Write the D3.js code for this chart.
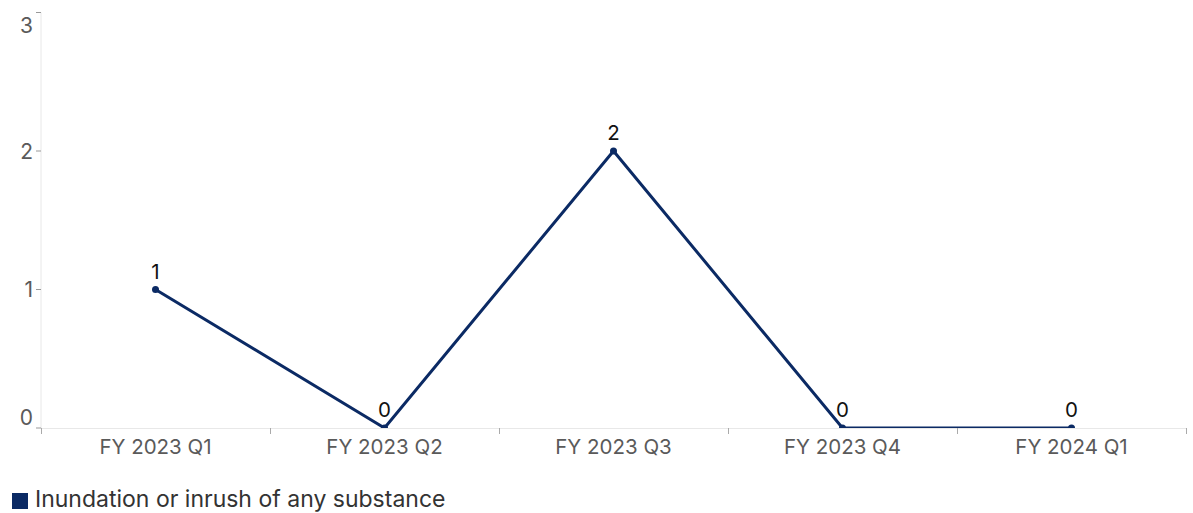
<!DOCTYPE html>
<html><head><meta charset="utf-8">
<script src="https://cdn.jsdelivr.net/npm/d3@7"></script>
<style>body{margin:0;background:#fff;}svg{display:block;font-family:Inter,"Noto Sans",sans-serif;}</style>
</head><body>
<svg id="c" width="1193" height="513"></svg>
<script>
const categories = ["FY 2023 Q1","FY 2023 Q2","FY 2023 Q3","FY 2023 Q4","FY 2024 Q1"];
const values = [1,0,2,0,0];
const yTicks = [0,1,2,3];
const seriesName = "Inundation or inrush of any substance";

const svg = d3.select("#c");
const m = {left:41, right:1186, top:12.5, bottom:428};
const color = "#0b2a64";

const x = d3.scaleBand().domain(categories).range([m.left, m.right]);
const y = d3.scaleLinear().domain([0,3]).range([m.bottom, m.top]);

svg.append("line").attr("x1",m.left).attr("x2",m.left).attr("y1",m.top).attr("y2",m.bottom)
  .attr("stroke","#e8e8e8").attr("stroke-width",1);
svg.append("line").attr("x1",m.left).attr("x2",m.right).attr("y1",m.bottom+0.5).attr("y2",m.bottom+0.5)
  .attr("stroke","#e8e8e8").attr("stroke-width",1);

const yg = svg.append("g");
yTicks.forEach(t=>{
  yg.append("line").attr("x1",m.left-5).attr("x2",m.left).attr("y1",y(t)).attr("y2",y(t))
    .attr("stroke","#999").attr("stroke-width",1);
  const ly = Math.max(m.top+12.5, Math.min(m.bottom-11, y(t)));
  yg.append("text").attr("x",m.left-8).attr("y",ly).attr("dy","0.36em")
    .attr("text-anchor","end").attr("font-size",21).attr("fill","#5a5a5a").text(t);
});

const bounds = categories.map(c=>x(c)).concat([m.right]);
bounds.forEach(b=>{
  svg.append("line").attr("x1",b+0.5).attr("x2",b+0.5).attr("y1",m.bottom).attr("y2",m.bottom+6)
    .attr("stroke","#aaa").attr("stroke-width",1);
});
categories.forEach(c=>{
  svg.append("text").attr("x",x(c)+x.bandwidth()/2).attr("y",454)
    .attr("text-anchor","middle").attr("font-size",20.5).attr("fill","#5a5a5a").text(c);
});

svg.append("clipPath").attr("id","clip").append("rect")
  .attr("x",m.left).attr("y",0).attr("width",m.right-m.left).attr("height",m.bottom);

const data = categories.map((c,i)=>({c, v:values[i]}));
const cx = d=>x(d.c)+x.bandwidth()/2;
const pg = svg.append("g").attr("clip-path","url(#clip)");
pg.append("path").datum(data)
  .attr("d", d3.line().x(cx).y(d=>y(d.v)))
  .attr("fill","none").attr("stroke",color).attr("stroke-width",3).attr("stroke-linejoin","round");
pg.selectAll("circle").data(data).join("circle")
  .attr("cx",cx).attr("cy",d=>y(d.v)).attr("r",3.5).attr("fill",color);

svg.selectAll("text.lbl").data(data).join("text").attr("class","lbl")
  .attr("x",cx).attr("y",d=>y(d.v)-11)
  .attr("text-anchor","middle").attr("font-size",20.5).attr("fill","#111").text(d=>d.v);

svg.append("rect").attr("x",12).attr("y",493).attr("width",16).attr("height",16).attr("fill",color);
svg.append("text").attr("x",35).attr("y",507).attr("font-size",23).attr("fill","#333").text(seriesName);
</script>
</body></html>
